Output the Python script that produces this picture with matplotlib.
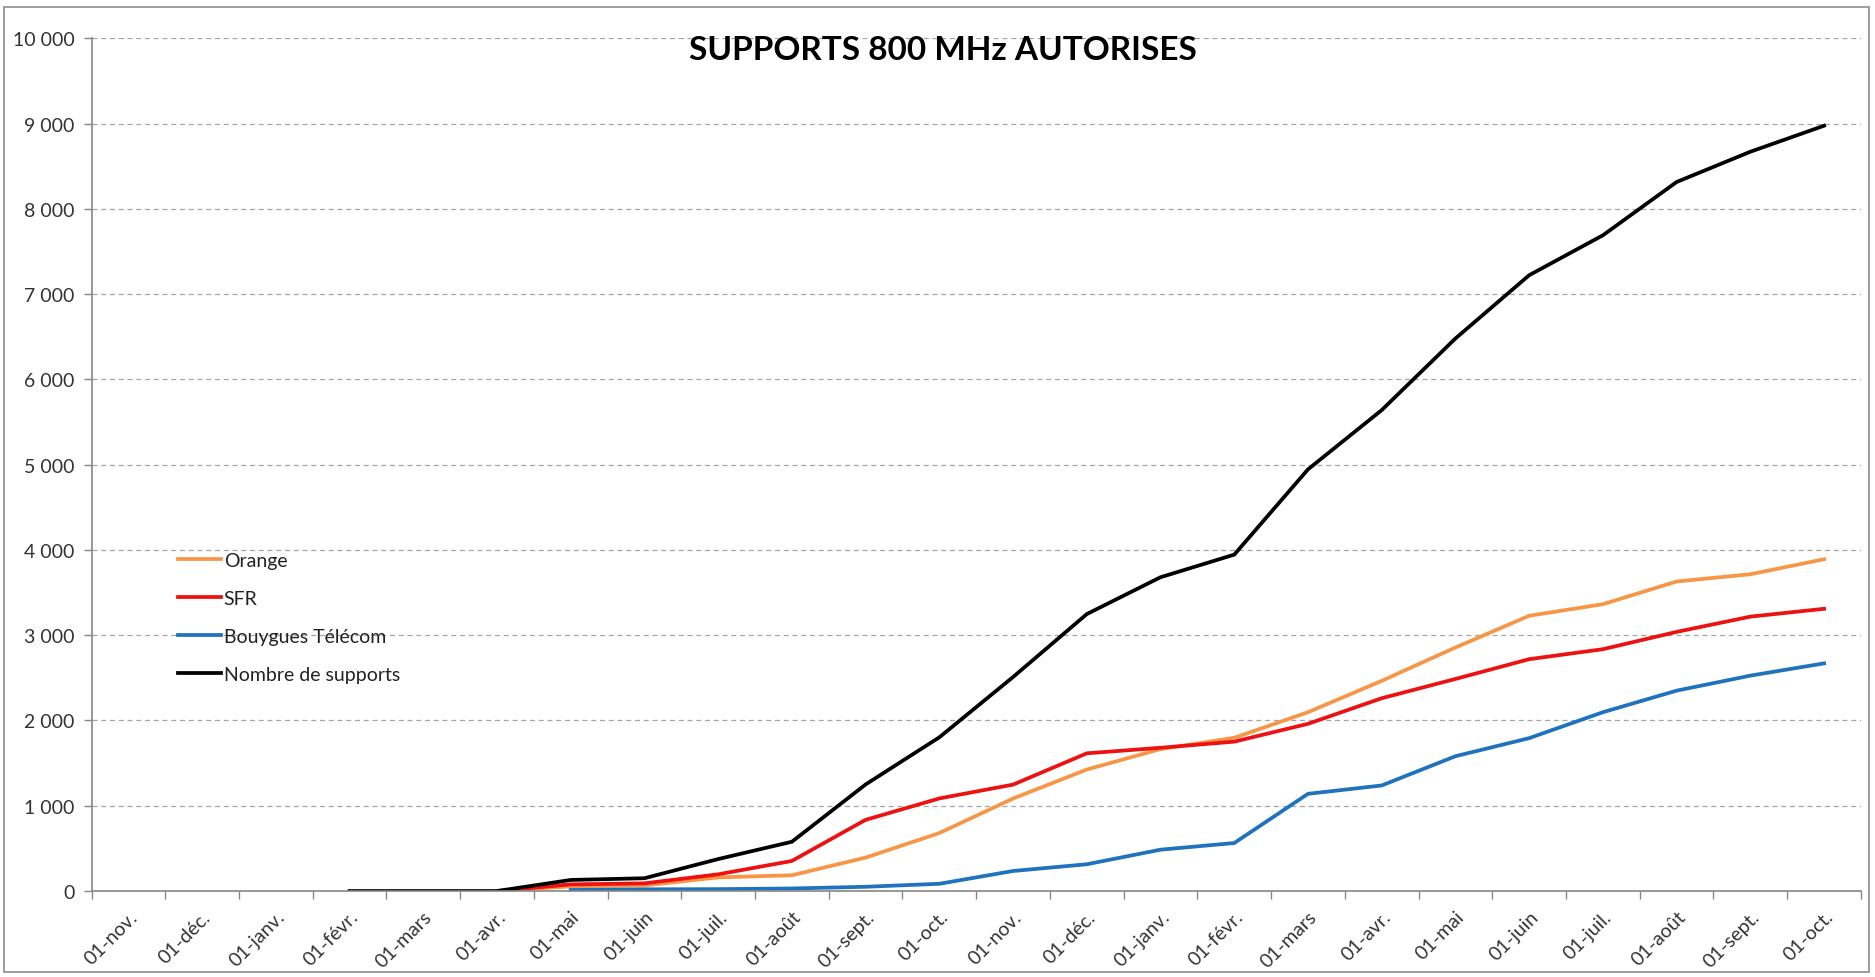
import numpy as np
import matplotlib
matplotlib.use("Agg")
import matplotlib.pyplot as plt
from matplotlib.ticker import FuncFormatter, FixedLocator
from matplotlib.patches import Rectangle

plt.rcParams['font.family'] = ['Lato', 'DejaVu Sans']

# categories (one per month, category axis)
months = ["01-nov.", "01-déc.", "01-janv.", "01-févr.", "01-mars", "01-avr.",
          "01-mai", "01-juin", "01-juil.", "01-août", "01-sept.", "01-oct.",
          "01-nov.", "01-déc.", "01-janv.", "01-févr.", "01-mars", "01-avr.",
          "01-mai", "01-juin", "01-juil.", "01-août", "01-sept.", "01-oct."]

orange = [None, None, None, None, None, 0, 55, 65, 160, 185, 392, 680,
          1085, 1425, 1665, 1797, 2097, 2465, 2856, 3228, 3364, 3630, 3715, 3891]
sfr = [None, None, None, None, None, 0, 78, 90, 196, 353, 835, 1086,
       1248, 1615, 1680, 1752, 1961, 2261, 2487, 2719, 2836, 3039, 3218, 3310]
bouygues = [None, None, None, None, None, None, 12, 20, 22, 30, 50, 85,
            235, 314, 485, 563, 1140, 1238, 1581, 1793, 2097, 2350, 2526, 2670]
supports = [None, None, None, 0, 0, 0, 130, 150, 375, 578, 1250, 1803,
            2510, 3248, 3680, 3945, 4945, 5640, 6480, 7222, 7690, 8315, 8670, 8975]

series = [("Orange", orange, "#F79646"),
          ("SFR", sfr, "#EE1111"),
          ("Bouygues Télécom", bouygues, "#1F72BD"),
          ("Nombre de supports", supports, "black")]

fig = plt.figure(figsize=(18.75, 9.78), dpi=100)
ax = fig.add_axes([0.0488, 0.0879, 0.9437, 0.8719])

x = np.arange(len(months))
for name, vals, col in series:
    y = np.array([np.nan if v is None else v for v in vals], dtype=float)
    ax.plot(x, y, color=col, lw=2.7, label=name, solid_joinstyle='miter')

ax.set_xlim(-0.5, len(months) - 0.5)
ax.set_ylim(0, 10000)

# y axis
ax.set_yticks(np.arange(0, 10001, 1000))
ax.yaxis.set_major_formatter(FuncFormatter(lambda v, p: f"{int(v):,}".replace(",", " ")))
ax.yaxis.grid(True, linestyle=(0, (4, 3)), color="#A6A6A6", lw=0.9)
ax.set_axisbelow(True)

# x axis: labels at category centres, tick marks between categories
ax.set_xticks(x)
ax.set_xticklabels(months, rotation=45, ha='right', rotation_mode='anchor')
ax.xaxis.set_minor_locator(FixedLocator(np.arange(-0.5, len(months), 1.0)))
ax.tick_params(axis='x', which='major', length=0, pad=12)
ax.tick_params(axis='x', which='minor', length=6, color="#868686", width=1)
ax.tick_params(axis='y', length=6, color="#868686", width=1, pad=6)
ax.tick_params(labelsize=14, labelcolor="#333333")

for s in ['top', 'right']:
    ax.spines[s].set_visible(False)
for s in ['left', 'bottom']:
    ax.spines[s].set_color("#868686")
    ax.spines[s].set_linewidth(1.2)

fig.text(0.503, 0.948, "SUPPORTS 800 MHz AUTORISES", fontsize=24, fontweight='bold',
         ha='center', va='center')

ax.legend(loc='upper left', bbox_to_anchor=(0.039, 0.418), frameon=False,
          fontsize=14, handlelength=2.2, handletextpad=0.15, labelspacing=1.08,
          labelcolor="#222222")

# chart area border
fig.patches.append(Rectangle((0.002, 0.005), 0.995, 0.987, transform=fig.transFigure,
                             fill=False, edgecolor="#8C8C8C", lw=1.2))

plt.savefig("out.png", dpi=100)
